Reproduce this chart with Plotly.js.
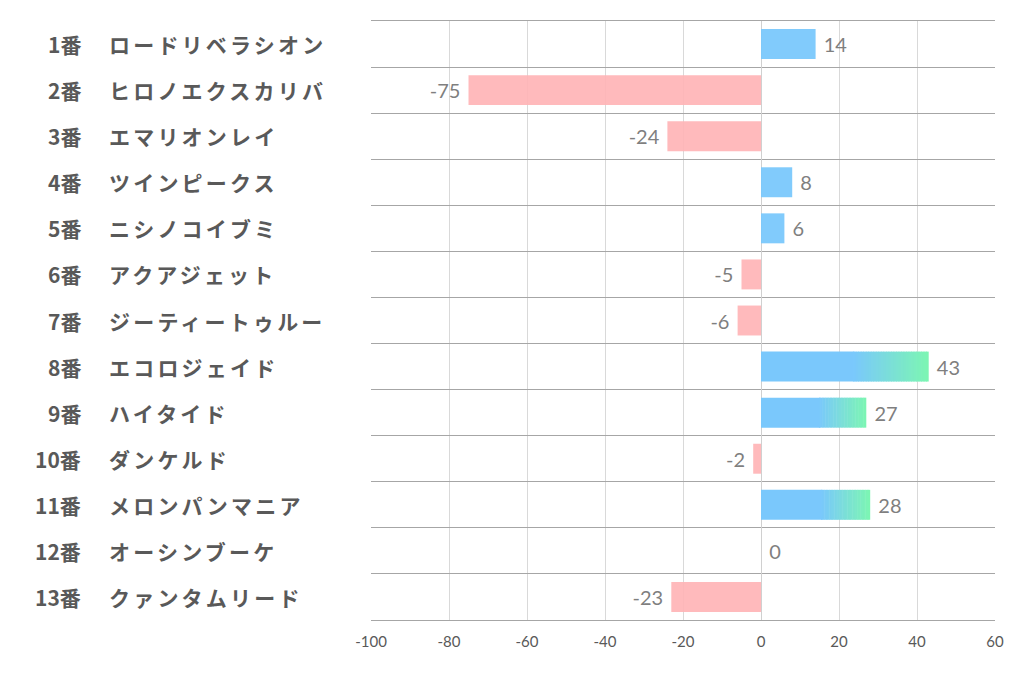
<!DOCTYPE html>
<html>
<head>
<meta charset="utf-8">
<script src="https://cdn.plot.ly/plotly-3.0.1.min.js"></script>
<style>
html,body{margin:0;padding:0;background:#fff;}
#chart{width:1022px;height:678px;}
</style>
</head>
<body>
<div id="chart"></div>
<script>
// ---- data ----
const numbers = ["1番","2番","3番","4番","5番","6番","7番","8番","9番","10番","11番","12番","13番"];
const names = ["ロードリベラシオン","ヒロノエクスカリバ","エマリオンレイ","ツインピークス","ニシノコイブミ","アクアジェット","ジーティートゥルー","エコロジェイド","ハイタイド","ダンケルド","メロンパンマニア","オーシンブーケ","クァンタムリード"];
const values = [14,-75,-24,8,6,-5,-6,43,27,-2,28,0,-23];
const xTicks = [-100,-80,-60,-40,-20,0,20,40,60];
const xTickText = ["-100","-80","-60","-40","-20","0","20","40","60"];

// ---- styles ----
const BLUE = [122,200,252];
const GREEN = [124,246,178];
const PINK = 'rgba(255,178,181,0.9)';
const GRAD_THRESHOLD = 20;   // bars longer than this get a gradient tip
const GRAD_START = 0.55;     // fraction of bar where gradient starts
const NSEG = 30;

const pos = values.map((v,i)=>i);
const rgba = (c,a)=>`rgba(${c[0]},${c[1]},${c[2]},${a})`;
const isGrad = v => v > GRAD_THRESHOLD;

// main bars (carry labels)
const mainColors = values.map(v => v < 0 ? PINK : (isGrad(v) ? 'rgba(0,0,0,0)' : rgba(BLUE,0.95)));
const labels = values.map(v => v < 0 ? v + ' ' : ' ' + v);

const traces = [{
  type:'bar', orientation:'h', x: values, y: pos,
  marker:{color: mainColors, line:{width:0}},
  text: labels, textposition:'outside', cliponaxis:false, constraintext:'none',
  textfont:{family:'Lato, Carlito, sans-serif', size:20, color:'#7f7f7f'},
  hoverinfo:'none', width:0.65
}];

// solid part of gradient bars
traces.push({
  type:'bar', orientation:'h', y: pos,
  x: values.map(v => isGrad(v) ? v*GRAD_START + 0.3 : null),
  base: values.map(v => isGrad(v) ? 0 : null),
  marker:{color: rgba(BLUE,1), line:{width:0}},
  hoverinfo:'none', width:0.65, showlegend:false
});
// gradient segments
for (let k=0;k<NSEG;k++){
  const t = (k+0.5)/NSEG;
  const c = BLUE.map((b,j)=>Math.round(b + (GREEN[j]-b)*t));
  traces.push({
    type:'bar', orientation:'h', y: pos,
    x: values.map(v => isGrad(v) ? (v*(1-GRAD_START)/NSEG)*(k===NSEG-1?1:1.3) : null),
    base: values.map(v => isGrad(v) ? v*GRAD_START + k*v*(1-GRAD_START)/NSEG : null),
    marker:{color: rgba(c,1), line:{width:0}},
    hoverinfo:'none', width:0.65, showlegend:false
  });
}

// row labels
const annotations = [];
const paperX = px => (px - 371)/624;
const labelFont = {family:'"Noto Sans CJK JP", sans-serif', size:21, color:'#595959', weight:'bold'};
numbers.forEach((n,i)=>annotations.push({
  x: paperX(83), xref:'paper', xanchor:'right', align:'right', y:i, yref:'y', yanchor:'middle',
  text:n, showarrow:false, font:labelFont
}));
names.forEach((n,i)=>annotations.push({
  x: paperX(107), xref:'paper', xanchor:'left', align:'left', y:i, yref:'y', yanchor:'middle',
  text:n, showarrow:false, font:labelFont
}));

const boundaries = [];
for (let i=0;i<=values.length;i++) boundaries.push(i-0.5);

const layout = {
  width:1022, height:678,
  margin:{l:371, r:27, t:21, b:58},
  paper_bgcolor:'#ffffff', plot_bgcolor:'#ffffff',
  barmode:'overlay', showlegend:false,
  font:{family:'Lato, sans-serif'},
  xaxis:{
    range:[-100,60], tickmode:'array', tickvals:xTicks, ticktext:xTickText,
    showgrid:true, gridcolor:'#d9d9d9', gridwidth:1,
    zeroline:true, zerolinecolor:'#d0d0d0', zerolinewidth:1,
    showline:true, linecolor:'#a6a6a6', linewidth:1, mirror:true,
    ticks:'', ticklabelstandoff:8,
    tickfont:{family:'Lato, sans-serif', size:15, color:'#595959'},
    fixedrange:true
  },
  yaxis:{
    range:[values.length-0.5,-0.5], tickmode:'array', tickvals:boundaries,
    showticklabels:false, ticks:'',
    showgrid:true, gridcolor:'#a6a6a6', gridwidth:1,
    zeroline:false, showline:false, fixedrange:true
  },
  annotations: annotations
};

Plotly.newPlot('chart', traces, layout, {displayModeBar:false, staticPlot:true}).then(()=>{
  document.querySelectorAll('.annotation').forEach(g=>{
    const idx = +g.getAttribute('data-index');
    if (idx >= numbers.length) {
      g.querySelectorAll('text').forEach(t=>t.style.letterSpacing='3.2px');
    }
  });
});
</script>
</body>
</html>
